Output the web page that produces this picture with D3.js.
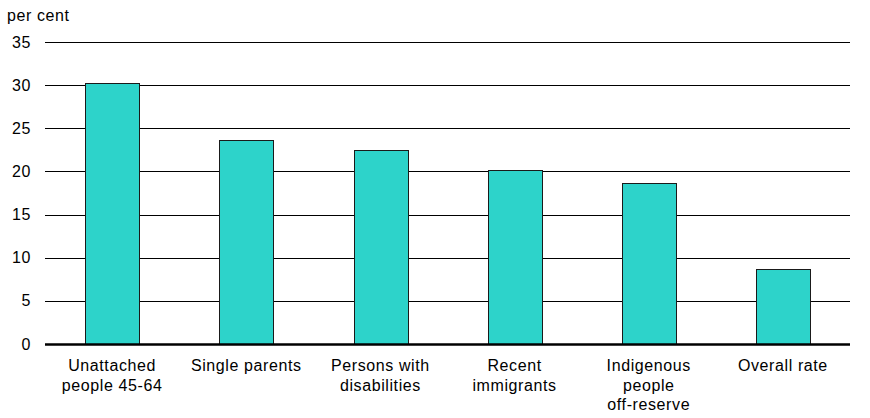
<!DOCTYPE html>
<html>
<head>
<meta charset="utf-8">
<script src="https://cdn.jsdelivr.net/npm/d3@7"></script>
<style>
  body { margin: 0; background: #fff; }
  text { font-family: "Liberation Sans", Arial, sans-serif; fill: #000; letter-spacing: 0.6px; }
</style>
</head>
<body>
<div id="chart"></div>
<script>
var categories = [
	['Unattached', 'people 45-64'],
	['Single parents'],
	['Persons with', 'disabilities'],
	['Recent', 'immigrants'],
	['Indigenous', 'people', 'off-reserve'],
	['Overall rate']
];
var values = [30.2, 23.6, 22.5, 20.2, 18.7, 8.7];
var yTicks = [0, 5, 10, 15, 20, 25, 30, 35];
var yLabel = 'per cent';

var width = 870, height = 418;
var plotLeft = 45, plotRight = 850, plotTop = 42, plotBottom = 344;

var svg = d3.select('#chart').append('svg')
	.attr('width', width)
	.attr('height', height);

var x = d3.scaleBand()
	.domain(d3.range(categories.length))
	.range([plotLeft, plotRight])
	.paddingInner(0.6)
	.paddingOuter(0.3);

var y = d3.scaleLinear()
	.domain([0, 35])
	.range([plotBottom, plotTop]);

// grid lines
svg.append('g')
	.selectAll('line')
	.data(yTicks.filter(function(d) { return d !== 0; }))
	.enter()
	.append('line')
	.attr('x1', plotLeft)
	.attr('x2', plotRight)
	.attr('y1', function(d) { return Math.round(y(d)) + 0.5; })
	.attr('y2', function(d) { return Math.round(y(d)) + 0.5; })
	.attr('stroke', '#000')
	.attr('stroke-width', 1);

// y axis labels
var yAxis = d3.axisLeft(y)
	.tickValues(yTicks)
	.tickSize(0)
	.tickPadding(0)
	.tickFormat(d3.format('d'));

var yG = svg.append('g')
	.attr('transform', 'translate(31,0)')
	.call(yAxis);
yG.select('.domain').remove();
yG.selectAll('text')
	.style('font-size', '16px')
	.style('font-family', '"Liberation Sans", Arial, sans-serif')
	.attr('fill', '#000');

svg.append('text')
	.attr('x', 7)
	.attr('y', 21)
	.style('font-size', '16px')
	.text(yLabel);

// bars
svg.append('g')
	.selectAll('rect')
	.data(values)
	.enter()
	.append('rect')
	.attr('x', function(d, i) { return Math.round(x(i)) + 0.5; })
	.attr('y', function(d) { return Math.round(y(d)) + 0.5; })
	.attr('width', Math.round(x.bandwidth()))
	.attr('height', function(d) { return Math.round(y(0)) - Math.round(y(d)); })
	.attr('fill', '#2dd3ca')
	.attr('stroke', '#1a1a1a')
	.attr('stroke-width', 1);

// baseline
svg.append('line')
	.attr('x1', plotLeft)
	.attr('x2', plotRight)
	.attr('y1', y(0) + 0.5)
	.attr('y2', y(0) + 0.5)
	.attr('stroke', '#000')
	.attr('stroke-width', 2.5);

// category labels
var labels = svg.append('g')
	.selectAll('text')
	.data(categories)
	.enter()
	.append('text')
	.attr('text-anchor', 'middle')
	.attr('x', function(d, i) { return x(i) + x.bandwidth() / 2; })
	.attr('y', 371)
	.style('font-size', '16px');

labels.selectAll('tspan')
	.data(function(d) { return d; })
	.enter()
	.append('tspan')
	.attr('x', function() { return d3.select(this.parentNode).attr('x'); })
	.attr('dy', function(d, i) { return i === 0 ? 0 : 19.5; })
	.text(function(d) { return d; });
</script>
</body>
</html>
